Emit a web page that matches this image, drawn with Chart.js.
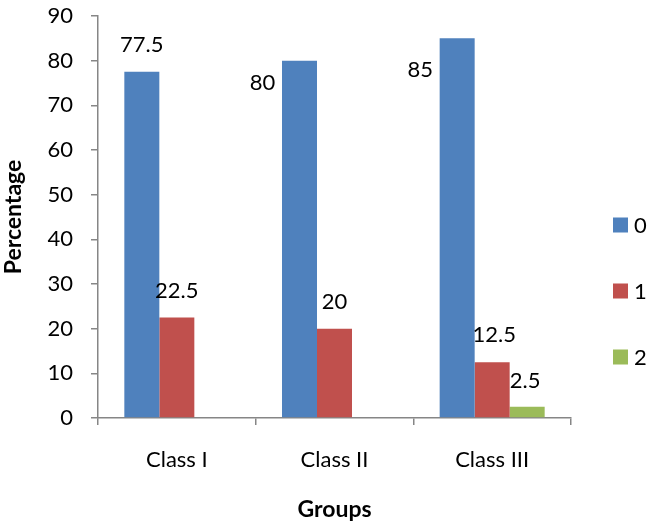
<!DOCTYPE html>
<html>
<head>
<meta charset="utf-8">
<script src="https://cdn.jsdelivr.net/npm/chart.js@4.4.1/dist/chart.umd.min.js"></script>
<style>
  html, body { margin: 0; padding: 0; background: #fff; }
  #wrap { width: 649px; height: 528px; }
</style>
</head>
<body>
<div id="wrap"><canvas id="chart" width="649" height="528"></canvas></div>
<script>
const categories = ['Class I', 'Class II', 'Class III'];
const seriesNames = ['0', '1', '2'];
const series0 = [77.5, 80, 85];
const series1 = [22.5, 20, 12.5];
const series2 = [0, 0, 2.5];
const yTicks = [0, 10, 20, 30, 40, 50, 60, 70, 80, 90];

const colors = ['#4F81BD', '#C0504D', '#9BBB59'];
const axisColor = '#868686';
const fontFamily = 'Lato, "Open Sans", sans-serif';

// where each value label sits, relative to the top centre of its bar
const labelOffsets = [
    [[0, -27], [-37, 22], [-37, 32]],
    [[0, -27], [0, -27], [2, -27]],
    [[0, -26], [0, -26], [-2, -26]]
];

const valueLabels = {
    id: 'valueLabels',
    afterDatasetsDraw(chart) {
        const ctx = chart.ctx;
        ctx.save();
        ctx.font = '22px ' + fontFamily;
        ctx.fillStyle = '#000';
        ctx.textAlign = 'center';
        ctx.textBaseline = 'middle';
        chart.data.datasets.forEach((ds, d) => {
            chart.getDatasetMeta(d).data.forEach((bar, i) => {
                const v = ds.data[i];
                if (!v) return;
                const off = labelOffsets[d][i];
                ctx.fillText(String(v), bar.x + off[0], bar.y + off[1]);
            });
        });
        ctx.restore();
    }
};

// legend on the right, drawn like the spreadsheet one
const sideLegend = {
    id: 'sideLegend',
    afterDraw(chart) {
        const ctx = chart.ctx;
        const x = chart.chartArea.right + 42;
        const midY = 291;
        const gap = 66;
        ctx.save();
        ctx.font = '22px ' + fontFamily;
        ctx.textBaseline = 'middle';
        ctx.textAlign = 'left';
        chart.data.datasets.forEach((ds, d) => {
            const y = midY + (d - 1) * gap;
            ctx.fillStyle = ds.backgroundColor;
            ctx.fillRect(x, y - 7.5, 15, 15);
            ctx.fillStyle = '#000';
            ctx.fillText(ds.label, x + 21, y + 1);
        });
        ctx.restore();
    }
};

const seriesValues = [series0, series1, series2];

new Chart(document.getElementById('chart'), {
    type: 'bar',
    data: {
        labels: categories,
        datasets: seriesNames.map((name, i) => ({
            label: name,
            data: seriesValues[i],
            backgroundColor: colors[i],
            borderWidth: 0,
            categoryPercentage: 0.666,
            barPercentage: 1
        }))
    },
    options: {
        responsive: false,
        animation: false,
        layout: { padding: { left: 0, right: 78, top: 0, bottom: 0 } },
        plugins: {
            legend: { display: false },
            tooltip: { enabled: false }
        },
        scales: {
            x: {
                afterFit: s => { s.height = 110; s.paddingLeft = 0; s.paddingRight = 0; },
                border: { color: axisColor, width: 1.5 },
                grid: { display: true, offset: true, drawOnChartArea: false, color: axisColor, tickLength: 7, lineWidth: 1.5 },
                ticks: { color: '#000', padding: 22, font: { family: fontFamily, size: 22 } },
                title: { display: true, text: 'Groups', color: '#000', font: { family: fontFamily, size: 23, weight: 'bold' }, padding: { top: 0, bottom: 5 } }
            },
            y: {
                min: 0,
                max: 90,
                afterFit: s => { s.width = 98; s.paddingTop = 16; s.paddingBottom = 0; },
                afterBuildTicks: s => { s.ticks = yTicks.map(v => ({ value: v })); },
                border: { color: axisColor, width: 1.5 },
                grid: { display: true, drawOnChartArea: false, color: axisColor, tickLength: 7, lineWidth: 1.5 },
                ticks: { color: '#000', padding: 18, font: { family: fontFamily, size: 22 } },
                title: { display: true, text: 'Percentage', color: '#000', font: { family: fontFamily, size: 23, weight: 'bold' }, padding: { top: 0, bottom: 0 } }
            }
        }
    },
    plugins: [valueLabels, sideLegend]
});
</script>
</body>
</html>
